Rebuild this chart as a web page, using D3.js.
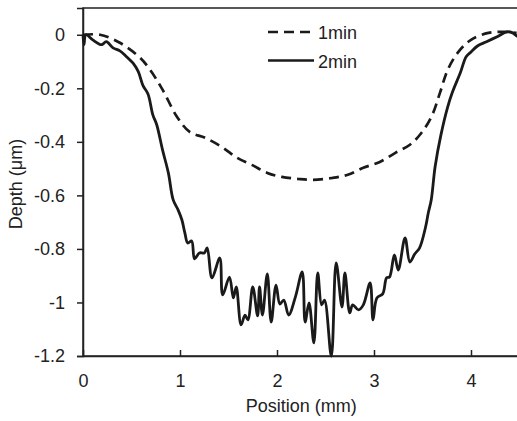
<!DOCTYPE html>
<html>
<head>
    <meta charset="UTF-8">
    <title>Depth profile</title>
    <script src="https://d3js.org/d3.v7.min.js"></script>
    <style>
        body { margin: 0; background: #fff; font-family: "Liberation Sans", Arial, sans-serif; }
        .axis text { font-size: 18px; font-family: "Liberation Sans", Arial, sans-serif; fill: #222; }
        .axis path, .axis line { stroke: #222; stroke-width: 1.5; }
    </style>
</head>
<body>
<div id="chart"></div>
<script>
// 1min profile: position (mm), depth (um)
const pos1 = [0, 0.175, 0.38, 0.59, 0.69, 0.82, 0.97, 1.10, 1.26, 1.43, 1.59, 1.74, 1.90, 2.05, 2.21,
    2.37, 2.57, 2.73, 2.89, 3.06, 3.22, 3.37, 3.49, 3.60, 3.68, 3.76, 3.87, 4.00, 4.18, 4.35, 4.47];
const depth1 = [0, 0, -0.03, -0.086, -0.13, -0.205, -0.307, -0.363, -0.385, -0.419, -0.46, -0.486, -0.516, -0.531, -0.538,
    -0.542, -0.535, -0.523, -0.497, -0.475, -0.441, -0.411, -0.366, -0.30, -0.217, -0.131, -0.064, -0.019, 0.007, 0.011, 0.007];

// 2min profile
const pos2 = [0.00, 0.01, 0.03, 0.10, 0.19, 0.24, 0.31, 0.38, 0.44, 0.52, 0.57, 0.62, 0.67, 0.72, 0.76, 0.82, 0.88, 0.93,
    0.98, 1.02, 1.05, 1.08, 1.12, 1.15, 1.20, 1.25, 1.28, 1.33, 1.41, 1.44, 1.51, 1.55, 1.58, 1.63, 1.67, 1.70, 1.75,
    1.80, 1.82, 1.85, 1.90, 1.94, 1.99, 2.03, 2.07, 2.12, 2.19, 2.26, 2.29, 2.33, 2.38, 2.42, 2.46, 2.49, 2.56, 2.61,
    2.67, 2.70, 2.75, 2.78, 2.84, 2.89, 2.96, 2.99, 3.03, 3.09, 3.13, 3.16, 3.21, 3.25, 3.32, 3.37, 3.42, 3.47, 3.53,
    3.56, 3.59, 3.63, 3.69, 3.76, 3.81, 3.89, 3.95, 4.00, 4.07, 4.16, 4.27, 4.37, 4.43, 4.48];
const depth2 = [0.000, -0.037, 0.000, -0.019, -0.037, -0.026, -0.049, -0.060, -0.079, -0.108, -0.138, -0.191, -0.221,
    -0.299, -0.336, -0.430, -0.516, -0.617, -0.654, -0.692, -0.740, -0.778, -0.770, -0.837, -0.815, -0.815, -0.796,
    -0.908, -0.834, -0.972, -0.905, -0.983, -0.942, -1.084, -1.047, -1.065, -0.942, -1.050, -0.942, -1.047, -0.893,
    -1.073, -0.935, -1.006, -0.991, -1.047, -0.979, -0.886, -1.073, -1.002, -1.151, -0.890, -1.009, -0.991, -1.200,
    -0.852, -1.017, -0.890, -1.039, -1.009, -1.028, -1.009, -0.927, -1.065, -0.983, -0.968, -0.908, -0.905, -0.822,
    -0.879, -0.759, -0.849, -0.819, -0.796, -0.721, -0.665, -0.617, -0.493, -0.374, -0.269, -0.213, -0.142, -0.082,
    -0.064, -0.041, -0.026, -0.007, 0.011, 0.007, -0.007];

const xTicks = [0, 1, 2, 3, 4];
const yTicks = [0, -0.2, -0.4, -0.6, -0.8, -1, -1.2];
const seriesNames = ["1min", "2min"];

const W = 517, H = 421;
const margin = { top: 8, right: -2.5, bottom: 65, left: 83 };
const width = W - margin.left - margin.right;
const height = H - margin.top - margin.bottom;

const svg = d3.select("#chart").append("svg")
    .attr("width", W).attr("height", H);
const g = svg.append("g").attr("transform", `translate(${margin.left},${margin.top})`);

const x = d3.scaleLinear().domain([0, 4.5]).range([0, width]);
const y = d3.scaleLinear().domain([-1.2, 0.1]).range([height, 0]);

// frame (top/right)
g.append("rect").attr("width", width).attr("height", height)
    .attr("fill", "none").attr("stroke", "#222").attr("stroke-width", 1.5);

// axes
g.append("g").attr("class", "axis")
    .attr("transform", `translate(0,${height})`)
    .call(d3.axisBottom(x).tickValues(xTicks).tickSize(-6).tickPadding(18).tickFormat(d3.format("d")))
    .call(a => a.selectAll(".tick").filter(d => d === 0).select("line").remove());

g.append("g").attr("class", "axis")
    .call(d3.axisLeft(y).tickValues(yTicks).tickSize(6).tickPadding(12)
        .tickFormat(d => d === 0 ? "0" : String(+d.toFixed(1))));

const line = d3.line()
    .x(d => x(d[0])).y(d => y(d[1]))
    .curve(d3.curveCatmullRom.alpha(0.5));

const data1 = pos1.map((p, i) => [p, depth1[i]]);
const data2 = pos2.map((p, i) => [p, depth2[i]]);

g.append("path").datum(data1)
    .attr("fill", "none").attr("stroke", "#1a1a1a").attr("stroke-width", 2.7)
    .attr("stroke-dasharray", "10,6")
    .attr("d", line);

g.append("path").datum(data2)
    .attr("fill", "none").attr("stroke", "#1a1a1a").attr("stroke-width", 2.8)
    .attr("stroke-linejoin", "round")
    .attr("d", line);

// legend
const legend = svg.append("g").attr("transform", "translate(268,32)");
seriesNames.forEach((name, i) => {
    const row = legend.append("g").attr("transform", `translate(0,${i * 28.5})`);
    row.append("line").attr("x1", 0).attr("x2", 46).attr("y1", 0).attr("y2", 0)
        .attr("stroke", "#1a1a1a").attr("stroke-width", 2.7)
        .attr("stroke-dasharray", i === 0 ? "10,6" : null);
    row.append("text").attr("x", 50).attr("y", 7)
        .style("font-size", "18px").attr("fill", "#222").text(name);
});

// axis titles
svg.append("text")
    .attr("x", margin.left + x(2.25)).attr("y", 412)
    .attr("text-anchor", "middle").style("font-size", "18px").attr("fill", "#222")
    .text("Position (mm)");

svg.append("text")
    .attr("transform", "translate(22,184) rotate(-90)")
    .attr("text-anchor", "middle").style("font-size", "18px").attr("fill", "#222")
    .text("Depth (μm)");
</script>
</body>
</html>
